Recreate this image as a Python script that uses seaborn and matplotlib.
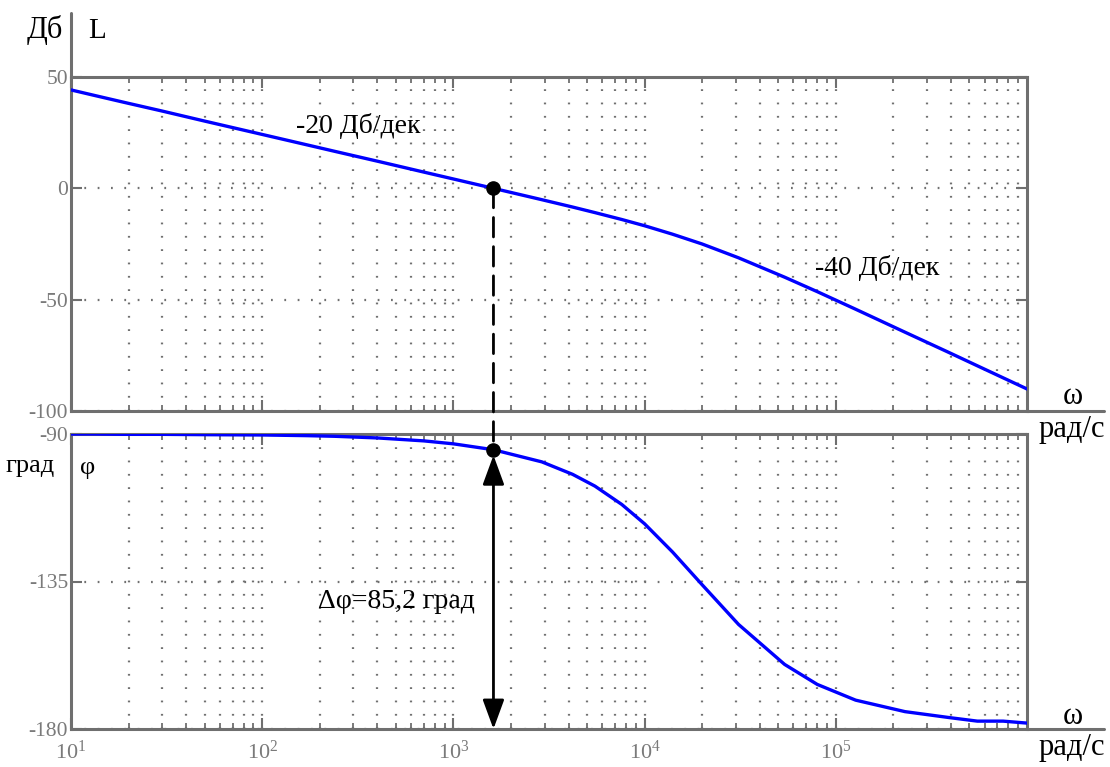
import matplotlib
matplotlib.use("Agg")
import matplotlib.pyplot as plt
import pandas as pd
import seaborn as sns
from matplotlib.lines import Line2D
from matplotlib.patches import ConnectionPatch
from matplotlib.ticker import LogLocator, FixedLocator, NullFormatter, LogFormatterSciNotation

# Frequency response of the open loop: angular frequency, magnitude (dB), phase (deg)
omega = [10, 13, 19, 30, 50, 100, 170, 240, 400, 700, 1000, 1620, 2900, 4200, 5500,
         7600, 1.0e4, 1.4e4, 2.0e4, 3.1e4, 5.4e4, 8.0e4, 1.27e5, 2.3e5, 3.9e5, 5.5e5,
         7.5e5, 1.0e6]
magnitude_db = [44.2, 41.9, 38.6, 34.7, 30.2, 24.2, 19.6, 16.6, 12.2, 7.3, 4.2, 0.0,
                -5.1, -8.4, -10.9, -14.0, -16.8, -20.6, -25.0, -31.2, -39.9, -46.4,
                -54.3, -64.6, -73.7, -79.7, -85.1, -90.1]
phase_deg = [-90.0, -90.0, -90.1, -90.1, -90.2, -90.3, -90.5, -90.7, -91.2, -92.1,
             -93.0, -94.8, -98.5, -102.3, -105.9, -111.5, -117.4, -126.0, -136.0,
             -148.1, -160.3, -166.4, -171.2, -174.7, -176.5, -177.6, -177.6, -178.2]

# Crossover frequency and phase margin
crossover_omega = 1620
phase_margin = 85.2

mag_ticks = [50, 0, -50, -100]
phase_ticks = [-90, -135, -180]
omega_ticks = [1e1, 1e2, 1e3, 1e4, 1e5]

df = pd.DataFrame({"omega": omega, "L": magnitude_db, "phi": phase_deg})

sns.set_theme(style="white")
plt.rcParams["font.family"] = ["Liberation Serif", "DejaVu Serif"]
plt.rcParams["mathtext.fontset"] = "custom"
plt.rcParams["mathtext.rm"] = "Liberation Serif"
plt.rcParams["mathtext.default"] = "regular"
plt.rcParams["axes.unicode_minus"] = False

W, H = 1110, 767
fig = plt.figure(figsize=(W / 100, H / 100), dpi=100)


def fx(px):
    return px / W


def fy(py):
    return 1 - py / H


SPINE = "#6f6f6f"
TICKLABEL = "#7a7a7a"
GRID = "#707070"
CURVE = "#0000ff"

ax1 = fig.add_axes([fx(71), fy(411), fx(1027) - fx(71), fy(77) - fy(411)])
ax2 = fig.add_axes([fx(71), fy(729), fx(1027) - fx(71), fy(434) - fy(729)])

sns.lineplot(data=df, x="omega", y="L", ax=ax1, color=CURVE, lw=2.4,
             sort=False, estimator=None, zorder=4)
sns.lineplot(data=df, x="omega", y="phi", ax=ax2, color=CURVE, lw=2.4,
             sort=False, estimator=None, zorder=4)

for ax, lims, yt in ((ax1, (-100, 50), mag_ticks), (ax2, (-180, -90), phase_ticks)):
    ax.set_xscale("log")
    ax.set_xlim(10, 1e6)
    ax.set_ylim(*lims)
    ax.set_xlabel("")
    ax.set_ylabel("")
    ax.set_facecolor("white")
    ax.xaxis.set_major_locator(FixedLocator(omega_ticks))
    ax.xaxis.set_minor_locator(LogLocator(base=10, subs=range(2, 10), numticks=20))
    ax.xaxis.set_minor_formatter(NullFormatter())
    ax.yaxis.set_major_locator(FixedLocator(yt))
    for s in ax.spines.values():
        s.set_visible(True)
        s.set_color(SPINE)
        s.set_linewidth(2.2)
    ax.tick_params(which="both", direction="in", top=True, right=True,
                   bottom=True, left=True, color=SPINE, labelcolor=TICKLABEL)
    ax.tick_params(axis="y", labelsize=15.5, pad=2)
    ax.tick_params(axis="x", labelsize=16, pad=8)
    ax.tick_params(which="major", length=8, width=1.5)
    ax.tick_params(which="minor", length=4, width=1.3)
    ax.set_axisbelow(True)
    ax.grid(which="both", axis="x", color=GRID, lw=1.6, linestyle=(0, (0.8, 5.2)))
    ax.grid(which="major", axis="y", color=GRID, lw=1.6, linestyle=(0, (0.8, 5.2)))

ax1.tick_params(axis="x", labelbottom=False)
ax2.xaxis.set_major_formatter(LogFormatterSciNotation())

# Crossover points, dashed projection and the phase-margin arrow
phase_c = -180 + phase_margin
ax1.plot([crossover_omega], [0], "o", ms=9.5, color="black", zorder=6, clip_on=False)
ax2.plot([crossover_omega], [phase_c], "o", ms=9.5, color="black", zorder=6, clip_on=False)
con = ConnectionPatch(xyA=(crossover_omega, 0), coordsA=ax1.transData,
                      xyB=(crossover_omega, phase_c), coordsB=ax2.transData,
                      linestyle=(0, (7, 3.5)), lw=2, color="black", zorder=5)
fig.add_artist(con)
ax2.annotate("", xy=(crossover_omega, -180), xytext=(crossover_omega, phase_c),
             arrowprops=dict(arrowstyle="<|-|>,head_length=0.9,head_width=0.33",
                             lw=2, color="black", shrinkA=4, shrinkB=0,
                             mutation_scale=20),
             zorder=6, annotation_clip=False)

# Axis extensions
for y in (411, 729):
    fig.add_artist(Line2D([fx(1027), fx(1104)], [fy(y), fy(y)],
                          transform=fig.transFigure, color=SPINE, lw=2.2))
fig.add_artist(Line2D([fx(71), fx(71)], [fy(13), fy(77)],
                      transform=fig.transFigure, color=SPINE, lw=2.2))

# Labels
txt = dict(ha="center", va="center", color="black")
fig.text(fx(45), fy(30), "Дб", fontsize=22, **txt)
fig.text(fx(97), fy(31), "L", fontsize=21, **txt)
fig.text(fx(30), fy(466), "град", fontsize=19, **txt)
fig.text(fx(88), fy(468), "φ", fontsize=19, **txt)
fig.text(fx(1073), fy(396), "ω", fontsize=22, **txt)
fig.text(fx(1072), fy(430), "рад/с", fontsize=22, **txt)
fig.text(fx(1073), fy(717), "ω", fontsize=22, **txt)
fig.text(fx(1072), fy(748), "рад/с", fontsize=22, **txt)
fig.text(fx(358), fy(126), "-20 Дб/дек", fontsize=20, **txt)
fig.text(fx(877), fy(268), "-40 Дб/дек", fontsize=20, **txt)
fig.text(fx(396), fy(601), "Δφ=85,2 град", fontsize=20, **txt)

fig.savefig("out.png", dpi=100, facecolor="white")
